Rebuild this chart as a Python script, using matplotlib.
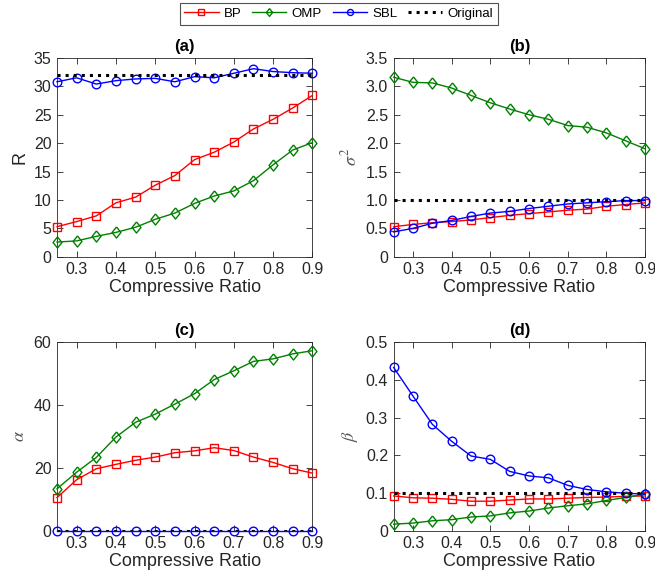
import matplotlib
matplotlib.use("Agg")
import matplotlib.pyplot as plt
import numpy as np

plt.rcParams['font.family'] = ['Liberation Sans', 'DejaVu Sans']
plt.rcParams['mathtext.fontset'] = 'stix'

ratio = [0.25, 0.30, 0.35, 0.40, 0.45, 0.50, 0.55, 0.60, 0.65, 0.70, 0.75, 0.80, 0.85, 0.90]

# (a) R
R_bp = [5.3, 6.2, 7.2, 9.5, 10.5, 12.6, 14.3, 17.1, 18.4, 20.2, 22.5, 24.2, 26.2, 28.4]
R_omp = [2.6, 2.8, 3.6, 4.3, 5.2, 6.6, 7.7, 9.4, 10.7, 11.6, 13.4, 16.2, 18.8, 20.1]
R_sbl = [30.8, 31.5, 30.4, 31.0, 31.3, 31.4, 30.8, 31.7, 31.5, 32.3, 33.1, 32.6, 32.4, 32.3]
R_orig = 32.0

# (b) sigma^2
s_bp = [0.53, 0.57, 0.60, 0.62, 0.65, 0.69, 0.73, 0.76, 0.79, 0.82, 0.84, 0.89, 0.92, 0.95]
s_omp = [3.16, 3.07, 3.06, 2.97, 2.84, 2.71, 2.60, 2.50, 2.42, 2.31, 2.28, 2.18, 2.04, 1.90]
s_sbl = [0.44, 0.50, 0.59, 0.64, 0.71, 0.77, 0.80, 0.85, 0.89, 0.93, 0.95, 0.97, 0.99, 0.99]
s_orig = 1.0

# (c) alpha
a_bp = [10.5, 16.2, 19.7, 21.1, 22.4, 23.4, 24.8, 25.4, 26.4, 25.5, 23.4, 21.7, 19.7, 18.3]
a_omp = [13.3, 18.6, 23.3, 29.8, 34.5, 37.1, 40.3, 43.6, 48.1, 50.9, 53.9, 54.7, 56.3, 57.3]
a_sbl = [0.0] * 14
a_orig = 0.0

# (d) beta
b_bp = [0.092, 0.087, 0.086, 0.083, 0.078, 0.078, 0.081, 0.084, 0.084, 0.086, 0.088, 0.089, 0.091, 0.092]
b_omp = [0.017, 0.020, 0.026, 0.029, 0.036, 0.039, 0.047, 0.052, 0.060, 0.066, 0.071, 0.080, 0.088, 0.097]
b_sbl = [0.433, 0.357, 0.282, 0.237, 0.198, 0.189, 0.157, 0.145, 0.140, 0.120, 0.109, 0.103, 0.099, 0.097]
b_orig = 0.1

panels = [
    dict(title='(a)', ylabel='R', bp=R_bp, omp=R_omp, sbl=R_sbl, orig=R_orig,
         ylim=(0, 35), yticks=np.arange(0, 36, 5), fmt='{:g}',
         pos=[0.087, 0.561, 0.390, 0.340]),
    dict(title='(b)', ylabel=r'$\sigma^2$', bp=s_bp, omp=s_omp, sbl=s_sbl, orig=s_orig,
         ylim=(0, 3.5), yticks=np.arange(0, 3.51, 0.5), fmt='{:.1f}',
         pos=[0.601, 0.561, 0.384, 0.340]),
    dict(title='(c)', ylabel=r'$\alpha$', bp=a_bp, omp=a_omp, sbl=a_sbl, orig=a_orig,
         ylim=(0, 60), yticks=np.arange(0, 61, 20), fmt='{:g}',
         pos=[0.087, 0.093, 0.390, 0.322]),
    dict(title='(d)', ylabel=r'$\beta$', bp=b_bp, omp=b_omp, sbl=b_sbl, orig=b_orig,
         ylim=(0, 0.5), yticks=np.arange(0, 0.51, 0.1), fmt='{:.1f}',
         pos=[0.601, 0.093, 0.384, 0.322]),
]

diamond = [(0, 1), (0.8, 0), (0, -1), (-0.8, 0), (0, 1)]

fig = plt.figure(figsize=(6.55, 5.85), dpi=100)
dark = '#262626'
handles = None
for p in panels:
    ax = fig.add_axes(p['pos'])
    h1, = ax.plot(ratio, p['bp'], '-', marker='s', color='red', mfc='none', ms=5.5, lw=1, mew=1,
                  label='BP', clip_on=False, zorder=3)
    h2, = ax.plot(ratio, p['omp'], '-', marker=diamond, color='#008000', mfc='none', ms=8, lw=1, mew=1,
                  label='OMP', clip_on=False, zorder=3)
    h3, = ax.plot(ratio, p['sbl'], '-', marker='o', color='blue', mfc='none', ms=6.2, lw=1, mew=1,
                  label='SBL', clip_on=False, zorder=3)
    h4, = ax.plot([ratio[0], ratio[-1]], [p['orig'], p['orig']], ':', color='black', lw=2.2,
                  label='Original', zorder=4)
    handles = [h1, h2, h3, h4]
    ax.set_xlim(0.25, 0.9)
    ax.set_ylim(*p['ylim'])
    ax.set_xticks(np.arange(0.3, 0.91, 0.1))
    ax.set_xticklabels(['{:.1f}'.format(v) for v in np.arange(0.3, 0.91, 0.1)])
    ax.set_yticks(p['yticks'])
    labels = [p['fmt'].format(v) for v in p['yticks']]
    labels[0] = '0'
    ax.set_yticklabels(labels)
    ax.tick_params(direction='in', top=True, right=True, labelsize=11.5, colors=dark,
                   length=4, width=0.6, pad=4)
    for s in ax.spines.values():
        s.set_color(dark)
        s.set_linewidth(0.6)
    ax.set_title(p['title'], fontsize=12, fontweight='bold', pad=5)
    ax.set_xlabel('Compressive Ratio', fontsize=13, color=dark, labelpad=1)
    if p['ylabel'] == 'R':
        ax.set_ylabel(p['ylabel'], fontsize=13, color=dark, labelpad=4)
    else:
        ax.set_ylabel(p['ylabel'], fontsize=13, color='#555555', labelpad=4)

leg = fig.legend(handles=handles, labels=['BP', 'OMP', 'SBL', 'Original'], loc='upper center',
                 bbox_to_anchor=(0.517, 0.997), ncol=4, fontsize=9.5, frameon=True,
                 fancybox=False, edgecolor=dark, handlelength=2.6, handletextpad=0.4,
                 columnspacing=0.8, borderpad=0.35, markerscale=0.7, borderaxespad=0.1)
leg.get_frame().set_linewidth(0.8)

fig.savefig('out.png', dpi=100)
